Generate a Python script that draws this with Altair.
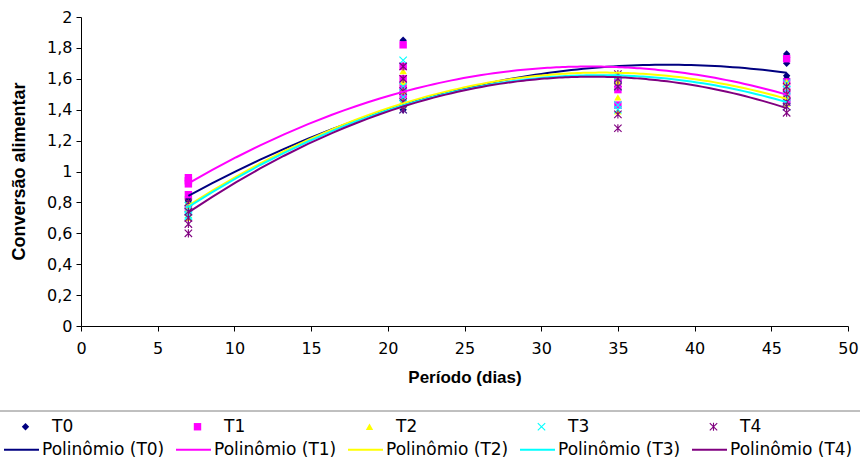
import altair as alt
import pandas as pd

# ---- data ----
days = [7, 21, 35, 46]
series = ["T0", "T1", "T2", "T3", "T4"]
colors = ["#000080", "#FF00FF", "#FFFF00", "#00FFFF", "#800080"]

T0 = [[0.84, 0.83, 0.81, 0.80, 0.77], [1.85, 1.52, 1.46, 1.42, 1.40],
      [1.60, 1.58, 1.55, 1.55, 1.57], [1.76, 1.74, 1.70, 1.62, 1.60]]
T1 = [[0.96, 0.94, 0.92, 0.85, 0.76], [1.82, 1.68, 1.60, 1.55, 1.50],
      [1.60, 1.59, 1.58, 1.53, 1.43], [1.73, 1.58, 1.52, 1.47, 1.45]]
T2 = [[0.80, 0.78, 0.76, 0.72, 0.70], [1.65, 1.58, 1.52, 1.46, 1.43],
      [1.63, 1.62, 1.58, 1.48, 1.39], [1.58, 1.55, 1.50, 1.48, 1.44]]
T3 = [[0.78, 0.76, 0.74, 0.72, 0.71], [1.72, 1.55, 1.48, 1.44, 1.40],
      [1.62, 1.60, 1.55, 1.40, 1.43], [1.57, 1.53, 1.48, 1.45, 1.42]]
T4 = [[0.80, 0.74, 0.70, 0.66, 0.60], [1.68, 1.60, 1.52, 1.45, 1.40],
      [1.63, 1.60, 1.55, 1.37, 1.28], [1.55, 1.50, 1.45, 1.42, 1.38]]
values = [T0, T1, T2, T3, T4]

poly_labels = ["Polinômio (T0)", "Polinômio (T1)", "Polinômio (T2)",
               "Polinômio (T3)", "Polinômio (T4)"]

x_ticks = list(range(0, 51, 5))
y_ticks = [0, 0.2, 0.4, 0.6, 0.8, 1, 1.2, 1.4, 1.6, 1.8, 2]

rows = []
for s, vals in zip(series, values):
    for d, reps in zip(days, vals):
        for v in reps:
            rows.append({"dia": d, "conv": v, "serie": s})
df = pd.DataFrame(rows)

# filled marker shapes (x and asterisk built as filled polygons)
x_path = ("M-1.106,-0.894L0.894,1.106L1.106,0.894L-0.894,-1.106Z"
          "M-0.894,1.106L1.106,-0.894L0.894,-1.106L-1.106,0.894Z")
ast_path = x_path + "M-0.15,-1.1L-0.15,1.1L0.15,1.1L0.15,-1.1Z"
shapes = ["diamond", "square", "triangle-up", x_path, ast_path]

LFONT = "DejaVu Sans"
TFONT = "Liberation Sans"

x_enc = alt.X("dia:Q", scale=alt.Scale(domain=[0, 50], nice=False),
              axis=alt.Axis(values=x_ticks, title="Período (dias)", format="d",
                            titleY=51, titleBaseline="middle", titleFontSize=17,
                            labelPadding=9, labelFlush=False, labelOverlap=False))
y_enc = alt.Y("conv:Q", scale=alt.Scale(domain=[0, 2], nice=False, zero=True),
              axis=alt.Axis(values=y_ticks, tickCount=11, title="Conversão alimentar",
                            labelExpr="replace(format(datum.value, '~g'), '.', ',')",
                            titleX=-62, titleY=154, titleBaseline="middle",
                            titleFontSize=18, labelPadding=4, labelOverlap=False,
                            labelFlush=False))

pt_legend = alt.Legend(
    orient="none", legendX=-64, legendY=401, title=None, columns=5,
    direction="horizontal", columnPadding=115, labelFontSize=17,
    labelFont=LFONT, labelColor="black", symbolSize=55, labelOffset=18,
    padding=0, symbolStrokeWidth=0,
)

base = alt.Chart(df)

points = base.mark_point(filled=True, size=55, opacity=1).encode(
    x=x_enc,
    y=y_enc,
    color=alt.Color("serie:N", scale=alt.Scale(domain=series, range=colors),
                    legend=pt_legend),
    shape=alt.Shape("serie:N", scale=alt.Scale(domain=series, range=shapes),
                    legend=pt_legend),
)

lines = base.transform_regression(
    "dia", "conv", method="poly", order=2, groupby=["serie"]
).transform_calculate(
    poly="'Polinômio (' + datum.serie + ')'"
).mark_line(strokeWidth=2).encode(
    x=x_enc,
    y=y_enc,
    stroke=alt.Stroke("poly:N", scale=alt.Scale(domain=poly_labels, range=colors),
                      legend=alt.Legend(
                          orient="none", legendX=-78, legendY=414, title=None,
                          columns=5, direction="horizontal", columnPadding=7,
                          labelFontSize=17, labelFont=LFONT, labelColor="black",
                          symbolType="stroke", symbolSize=1225,
                          symbolStrokeWidth=2, labelOffset=2, padding=0)),
)

border = alt.Chart(pd.DataFrame({"a": [0]})).mark_rule(
    color="#808080", strokeWidth=1
).encode(x=alt.value(-81), x2=alt.value(779), y=alt.value(394))

chart = alt.layer(points, lines, border).properties(
    width=767, height=309,
    autosize=alt.AutoSizeParams(type="none"),
    padding={"left": 81, "top": 17, "right": 12, "bottom": 133},
).configure_view(stroke=None).configure_axis(
    grid=False, domainColor="black", tickColor="black", tickSize=5,
    labelFont=LFONT, labelFontSize=16, labelColor="black",
    titleFont=TFONT, titleFontWeight="bold", titleColor="black",
).configure_legend(labelFont=LFONT)

chart.save("out.html", embed_options={"renderer": "svg", "actions": False})
